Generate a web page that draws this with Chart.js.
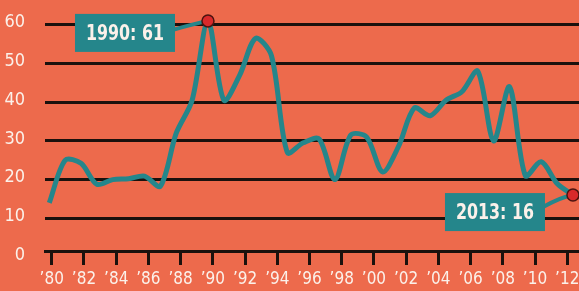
<!DOCTYPE html>
<html>
<head>
<meta charset="utf-8">
<script src="https://cdn.jsdelivr.net/npm/chart.js@4.4.0/dist/chart.umd.min.js"></script>
<style>
html, body { margin: 0; padding: 0; background: #ed6a4c; }
canvas { display: block; }
</style>
</head>
<body>
<canvas id="graph" width="579" height="291"></canvas>
<script>
// values
const years = [1980, 1981, 1982, 1983, 1984, 1985, 1986, 1987, 1988, 1989,
               1990, 1991, 1992, 1993, 1994, 1995, 1996, 1997, 1998, 1999,
               2000, 2001, 2002, 2003, 2004, 2005, 2006, 2007, 2008, 2009,
               2010, 2011, 2012, 2013];
const values = [14, 25, 24.2, 18.8, 20, 20.2, 20.9, 18.3, 32, 40.5,
                61, 40.5, 47, 56.5, 52, 27, 29.5, 30.5, 20, 31.5,
                31, 22, 28.5, 38.5, 36.5, 40.5, 42.7, 48, 30, 44,
                21, 24.6, 19, 16];
const yTicks = [0, 10, 20, 30, 40, 50, 60];
const xTickYears = [1980, 1982, 1984, 1986, 1988, 1990, 1992, 1994, 1996, 1998,
                    2000, 2002, 2004, 2006, 2008, 2010, 2012];
const highlightYears = [1990, 2013];

const teal = '#25868b';
const ink = '#1b110d';
const textColor = '#fbf1ea';
const labelFont = "'DejaVu Sans Condensed', 'DejaVu Sans', sans-serif";

// teal boxes with a little connector to the red dot
const calloutPlugin = {
    id: 'callouts',
    beforeDatasetsDraw(chart, args, opts) {
        const ctx = chart.ctx;
        const meta = chart.getDatasetMeta(0);
        opts.items.forEach(item => {
            const i = years.indexOf(item.year);
            const pt = meta.data[i];
            const bx = pt.x + item.dx;
            const by = pt.y + item.dy;
            ctx.save();
            ctx.strokeStyle = teal;
            ctx.lineWidth = 4;
            ctx.lineCap = 'round';
            ctx.beginPath();
            ctx.moveTo(bx + opts.w - 2, by + item.cy);
            ctx.quadraticCurveTo(pt.x - 12, pt.y + item.cy * 0.15, pt.x, pt.y);
            ctx.stroke();
            ctx.fillStyle = teal;
            ctx.fillRect(bx, by, opts.w, opts.h);

            // narrow, tall lettering like the original
            const txt = item.year + ': ' + values[i];
            ctx.font = 'bold 22px ' + labelFont;
            const sx = opts.textWidth / ctx.measureText(txt).width;
            ctx.fillStyle = textColor;
            ctx.textAlign = 'center';
            ctx.textBaseline = 'middle';
            ctx.translate(bx + opts.w / 2, by + opts.h / 2 + 1);
            ctx.scale(sx, 1);
            ctx.fillText(txt, 0, 0);
            ctx.restore();
        });
    }
};

const ctx = document.getElementById('graph').getContext('2d');

const chart = new Chart(ctx, {
    type: 'line',
    data: {
        datasets: [{
            data: years.map((y, i) => ({ x: y, y: values[i] })),
            borderColor: teal,
            borderWidth: 5,
            tension: 0.3,
            fill: false,
            pointRadius: years.map(y => highlightYears.includes(y) ? 6 : 0),
            pointHoverRadius: 0,
            pointBackgroundColor: '#d8292b',
            pointBorderColor: '#4a1410',
            pointBorderWidth: 1.5,
            clip: false,
        }],
    },
    options: {
        responsive: false,
        animation: false,
        events: [],
        layout: { padding: 0, autoPadding: false },
        plugins: {
            legend: { display: false },
            tooltip: { enabled: false },
            callouts: {
                w: 100,
                h: 38,
                textWidth: 78,
                items: [
                    { year: 1990, dx: -133, dy: -7, cy: 16 },
                    { year: 2013, dx: -128, dy: -2, cy: 14 },
                ],
            },
        },
        scales: {
            x: {
                type: 'linear',
                display: false,
                min: 1979.73,
                max: 2013.38,
            },
            xt: {
                type: 'linear',
                axis: 'x',
                position: 'bottom',
                min: 1979.58,
                max: 2012.73,
                afterBuildTicks: scale => {
                    scale.ticks = xTickYears.map(v => ({ value: v }));
                },
                afterFit: scale => {
                    scale.height = 40;
                    scale.paddingLeft = 0;
                    scale.paddingRight = 0;
                },
                grid: {
                    drawOnChartArea: false,
                    drawTicks: true,
                    tickLength: 14,
                    color: ink,
                    lineWidth: 3,
                },
                border: { display: true, color: ink, width: 3 },
                ticks: {
                    autoSkip: false,
                    maxRotation: 0,
                    padding: 4,
                    color: textColor,
                    font: { family: labelFont, size: 17 },
                    callback: v => '\u2019' + String(v).slice(2),
                },
            },
            y: {
                min: 1.55,
                max: 66.4,
                afterBuildTicks: scale => {
                    scale.ticks = yTicks.map(v => ({ value: v }));
                },
                afterFit: scale => {
                    scale.width = 45;
                    scale.paddingTop = 0;
                    scale.paddingBottom = 0;
                },
                border: { display: false },
                grid: {
                    drawTicks: false,
                    lineWidth: 3,
                    color: c => (c.tick && c.tick.value === 0) ? 'rgba(0,0,0,0)' : ink,
                },
                ticks: {
                    padding: 20,
                    labelOffset: -2,
                    color: textColor,
                    font: { family: labelFont, size: 18 },
                },
            },
        },
    },
    plugins: [calloutPlugin],
});
</script>
</body>
</html>
